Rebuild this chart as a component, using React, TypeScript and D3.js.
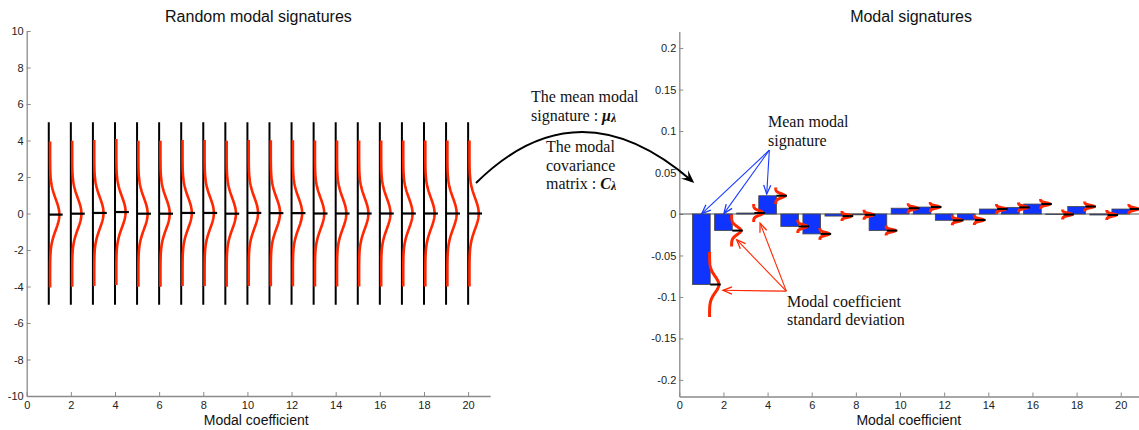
import React, { useEffect, useRef } from 'react';
import * as d3 from 'd3';

// modal coefficients (1..20)
const coefs = [1, 2, 3, 4, 5, 6, 7, 8, 9, 10, 11, 12, 13, 14, 15, 16, 17, 18, 19, 20];

// left panel: random modal signatures
const randomMeans = [-0.06, -0.01, 0.03, 0.08, -0.01, -0.01, 0.03, 0.03, -0.01, 0.03, 0.02, 0.02, 0, 0, 0, 0, 0, 0, 0, 0];
const randomStd = [0.85, 0.85, 0.85, 0.85, 0.85, 0.85, 0.85, 0.85, 0.85, 0.85, 0.85, 0.85, 0.85, 0.85, 0.85, 0.85, 0.85, 0.85, 0.85, 0.85];

// right panel: mean modal signature and std deviation
const modalMeans = [-0.085, -0.02, 0.0012, 0.022, -0.015, -0.024, -0.0025, -0.001, -0.02, 0.007, 0.0084, -0.0076, -0.0072, 0.006, 0.008, 0.012, -0.0005, 0.009, -0.0012, 0.006];
const modalStd = [0.0098, 0.0048, 0.0027, 0.0025, 0.002, 0.0018, 0.0015, 0.0015, 0.0015, 0.0015, 0.0015, 0.0015, 0.0015, 0.0015, 0.0015, 0.0015, 0.0015, 0.0015, 0.0015, 0.0015];

const leftYTicks = [-10, -8, -6, -4, -2, 0, 2, 4, 6, 8, 10];
const rightYTicks = [-0.2, -0.15, -0.1, -0.05, 0, 0.05, 0.1, 0.15, 0.2];
const xTicks = [0, 2, 4, 6, 8, 10, 12, 14, 16, 18, 20];

const RED = '#ff2600';
const BLUE = '#1034ff';
const SANS = '"Liberation Sans", Arial, sans-serif';
const SERIF = '"Liberation Serif", "Times New Roman", serif';

const App = () => {
  const svgRef = useRef<SVGSVGElement>(null);

  useEffect(() => {
    const svg = d3.select(svgRef.current);
    svg.selectAll('*').remove();

    const lx = d3.scaleLinear().domain([0, 21]).range([26.7, 490.2]);
    const ly = d3.scaleLinear().domain([-10, 10]).range([396, 31]);
    const rx = d3.scaleLinear().domain([0, 21]).range([679.3, 1142.8]);
    const ry = d3.scaleLinear().domain([-0.22, 0.22]).range([396.5, 31.5]);

    const drawAxes = (x, y, yTicks, title) => {
      const g = svg.append('g');
      const ya = g.append('g')
        .attr('transform', `translate(${x(0)},0)`)
        .call(d3.axisLeft(y).tickValues(yTicks).tickSize(-4).tickSizeOuter(0).tickPadding(3).tickFormat(d => String(d)));
      const xa = g.append('g')
        .attr('transform', `translate(0,${y.range()[0]})`)
        .call(d3.axisBottom(x).tickValues(xTicks).tickSize(-4).tickSizeOuter(0).tickPadding(5).tickFormat(d => String(d)));
      [ya, xa].forEach(a => {
        a.select('.domain').attr('stroke', '#8a8a8a').attr('stroke-width', 1.3);
        a.selectAll('.tick line').attr('stroke', '#8a8a8a');
        a.selectAll('.tick text').attr('fill', '#222').style('font-family', SANS).style('font-size', '11px');
      });
      const mid = (x.range()[0] + x.range()[1] - (x(21) - x(20.8))) / 2;
      g.append('text').attr('x', (x(0) + x(21)) / 2).attr('y', 22).attr('text-anchor', 'middle')
        .style('font-family', SANS).style('font-size', '16px').attr('fill', '#111').text(title);
      g.append('text').attr('x', mid).attr('y', 424.5).attr('text-anchor', 'middle')
        .style('font-family', SANS).style('font-size', '14px').attr('fill', '#111').text('Modal coefficient');
    };

    // density curve drawn sideways next to coefficient k
    const gauss = (k, m, s, half, off, amp, x, y) => {
      const pts = d3.range(0, 81).map(i => {
        const v = m - half + (2 * half * i) / 80;
        return [x(k + off + amp * Math.exp(-((v - m) ** 2) / (2 * s * s))), y(v)];
      });
      return d3.line()(pts as [number, number][]);
    };

    // ---- left panel ----
    drawAxes(lx, ly, leftYTicks, 'Random modal signatures');
    const gl = svg.append('g');
    gl.selectAll('line.v').data(coefs).enter().append('line')
      .attr('x1', d => lx(d)).attr('x2', d => lx(d))
      .attr('y1', ly(-5)).attr('y2', ly(5))
      .attr('stroke', '#000').attr('stroke-width', 2);
    gl.selectAll('path.g').data(coefs).enter().append('path')
      .attr('d', (d, i) => gauss(d, randomMeans[i], randomStd[i], 4, 0.06, 0.42, lx, ly))
      .attr('fill', 'none').attr('stroke', RED).attr('stroke-width', 2.6);
    gl.selectAll('line.m').data(coefs).enter().append('line')
      .attr('x1', d => lx(d)).attr('x2', d => lx(d + 0.63))
      .attr('y1', (d, i) => ly(randomMeans[i])).attr('y2', (d, i) => ly(randomMeans[i]))
      .attr('stroke', '#000').attr('stroke-width', 2.2);

    // ---- right panel ----
    drawAxes(rx, ry, rightYTicks, 'Modal signatures');
    const gr = svg.append('g');
    gr.append('line').attr('x1', rx(0)).attr('x2', rx(21)).attr('y1', ry(0)).attr('y2', ry(0))
      .attr('stroke', '#555').attr('stroke-width', 1);
    gr.selectAll('rect').data(coefs).enter().append('rect')
      .attr('x', d => rx(d - 0.4)).attr('width', d => rx(d + 0.4) - rx(d - 0.4))
      .attr('y', (d, i) => Math.min(ry(modalMeans[i]), ry(0)))
      .attr('height', (d, i) => Math.abs(ry(modalMeans[i]) - ry(0)))
      .attr('fill', BLUE).attr('stroke', '#444').attr('stroke-width', 0.8);
    gr.selectAll('path.g').data(coefs).enter().append('path')
      .attr('d', (d, i) => gauss(d, modalMeans[i], modalStd[i], 4 * modalStd[i], 0.37, 0.42, rx, ry))
      .attr('fill', 'none').attr('stroke', RED).attr('stroke-width', 3);
    gr.selectAll('line.m').data(coefs).enter().append('line')
      .attr('x1', d => rx(d + 0.4)).attr('x2', d => rx(d + 0.88))
      .attr('y1', (d, i) => ry(modalMeans[i])).attr('y2', (d, i) => ry(modalMeans[i]))
      .attr('stroke', '#000').attr('stroke-width', 2);

    // ---- annotations ----
    const ga = svg.append('g');
    const openArrow = (o, p, color) => {
      const dx = p[0] - o[0], dy = p[1] - o[1];
      const len = Math.hypot(dx, dy);
      const ux = dx / len, uy = dy / len;
      const L = 9, Wd = 3.6;
      ga.append('line').attr('x1', o[0]).attr('y1', o[1]).attr('x2', p[0]).attr('y2', p[1])
        .attr('stroke', color).attr('stroke-width', 1.1);
      ga.append('polyline')
        .attr('points', [
          [p[0] - L * ux - Wd * uy, p[1] - L * uy + Wd * ux],
          p,
          [p[0] - L * ux + Wd * uy, p[1] - L * uy - Wd * ux],
        ].map(q => q.join(',')).join(' '))
        .attr('fill', 'none').attr('stroke', color).attr('stroke-width', 1.3);
    };

    const blueFrom: [number, number] = [rx(4.08), ry(0.077)];
    [[1.02, 0.0005], [2.02, 0.0005], [3.96, 0.024]].forEach(t => openArrow(blueFrom, [rx(t[0]), ry(t[1])], '#1a3cff'));
    const redFrom: [number, number] = [rx(4.85), ry(-0.093)];
    [[1.98, -0.092], [2.6, -0.031], [3.66, -0.011]].forEach(t => openArrow(redFrom, [rx(t[0]), ry(t[1])], RED));

    // curved black arrow
    const p0 = [476, 183], c = [578, 82], p2 = [692, 181];
    ga.append('path').attr('d', `M${p0[0]},${p0[1]} Q${c[0]},${c[1]} ${p2[0]},${p2[1]}`)
      .attr('fill', 'none').attr('stroke', '#000').attr('stroke-width', 2);
    {
      const dx = p2[0] - c[0], dy = p2[1] - c[1];
      const len = Math.hypot(dx, dy);
      const ux = dx / len, uy = dy / len;
      const tip = [p2[0] + ux * 3, p2[1] + uy * 3];
      const L = 13, Wd = 5.5;
      const b1 = [tip[0] - L * ux - Wd * uy, tip[1] - L * uy + Wd * ux];
      const b2 = [tip[0] - L * ux + Wd * uy, tip[1] - L * uy - Wd * ux];
      const n = [tip[0] - 0.6 * L * ux, tip[1] - 0.6 * L * uy];
      ga.append('polygon').attr('points', [b1, tip, b2, n].map(q => q.join(',')).join(' ')).attr('fill', '#000');
    }

    const text = (x, y, s) => ga.append('text').attr('x', x).attr('y', y)
      .style('font-family', SERIF).style('font-size', '16px').attr('fill', '#111').text(s);
    const sym = (x, y, s, main, sub) => {
      const t = ga.append('text').attr('x', x).attr('y', y)
        .style('font-family', SERIF).style('font-size', '16px').attr('fill', '#111');
      t.append('tspan').text(s);
      t.append('tspan').text(main).style('font-weight', 'bold').style('font-style', 'italic');
      t.append('tspan').text(sub).style('font-weight', 'bold').style('font-style', 'italic').style('font-size', '12px').attr('dy', 1);
    };
    text(531, 102, 'The mean modal');
    sym(531, 121, 'signature : ', 'μ', 'λ');
    text(546, 152, 'The modal');
    text(546, 170.5, 'covariance');
    sym(546, 189, 'matrix : ', 'C', 'λ');
    text(768, 127, 'Mean modal');
    text(768, 146, 'signature');
    text(787, 306.5, 'Modal coefficient');
    text(787, 325, 'standard deviation');
  }, []);

  return (
    <svg ref={svgRef} width={1139} height={430}
      style={{ position: 'absolute', left: 0, top: 0, background: '#fff', display: 'block' }} />
  );
};

export default App;
